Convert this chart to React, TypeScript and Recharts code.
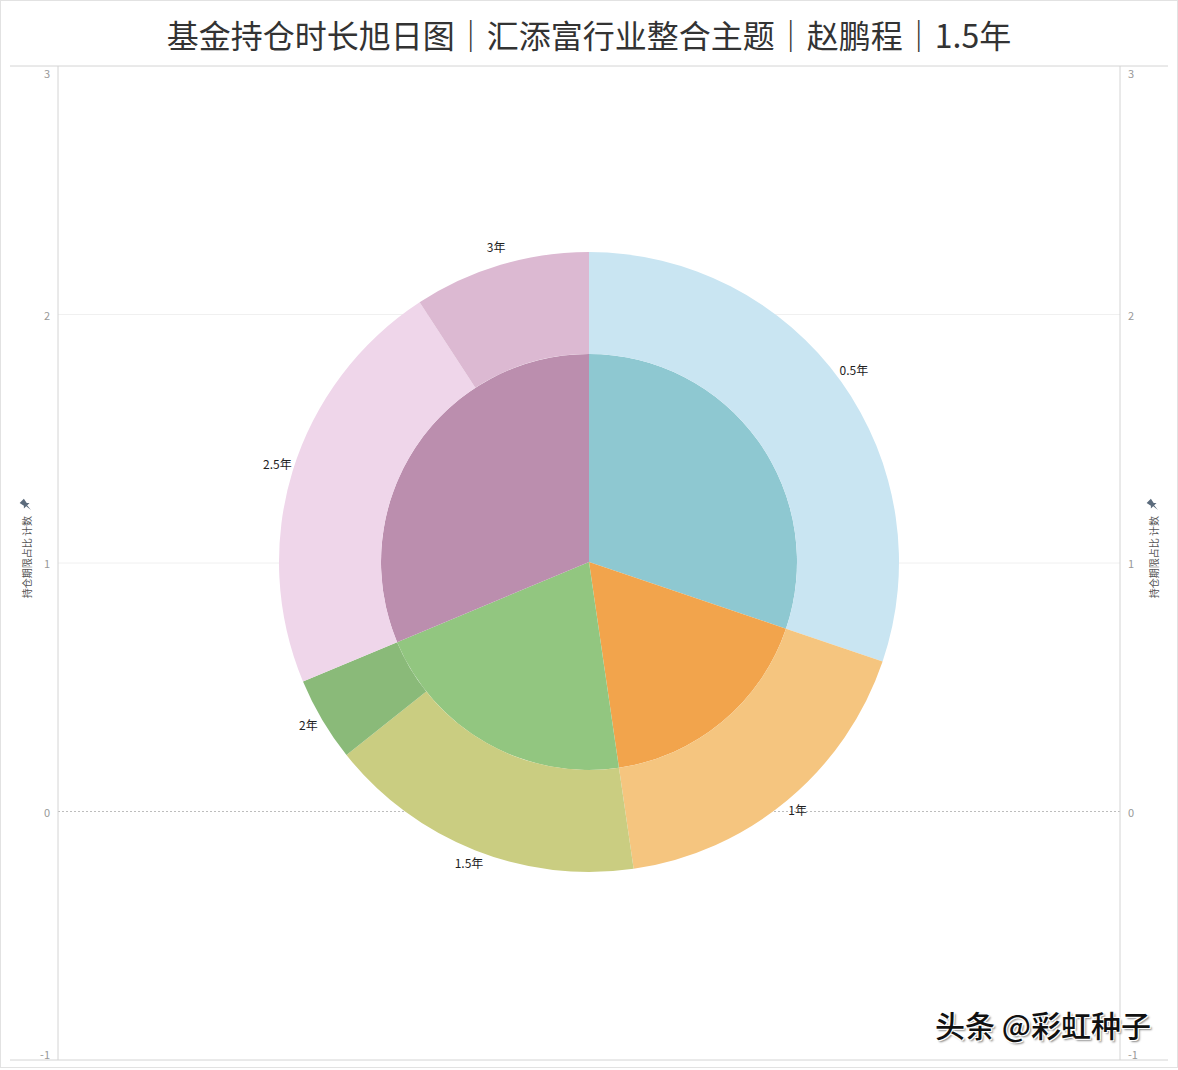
import React from 'react';
import {
  PieChart, Pie, Cell, LineChart, XAxis, YAxis, ReferenceLine,
} from 'recharts';

// inner ring: holding period groups
const innerGroups = ['0.5年', '1年', '1.5-2年', '2.5-3年'];
const innerValues = [30.2, 17.5, 21.0, 31.3];
const innerColors = ['#8ec8d1', '#f2a44c', '#92c680', '#bb8eae'];

// outer ring: single periods
const outerLabels = ['0.5年', '1年', '1.5年', '2年', '2.5年', '3年'];
const outerValues = [30.2, 17.5, 16.6, 4.4, 22.1, 9.2];
const outerColors = ['#c9e5f2', '#f5c57f', '#cacd81', '#8aba79', '#efd6ea', '#dcb9d2'];

const yTicks = [-1, 0, 1, 2, 3];

const TITLE = '基金持仓时长旭日图｜汇添富行业整合主题｜赵鹏程｜1.5年';
const AXIS_TITLE = '持仓期限占比 计数';

const W = 1178;
const H = 1070;
const CJK = '"Noto Sans CJK SC", "Noto Sans", sans-serif';
const RADIAN = Math.PI / 180;

const innerData = innerGroups.map((name, i) => ({ name, value: innerValues[i] }));
const outerData = outerLabels.map((name, i) => ({ name, value: outerValues[i] }));

function makeTick(anchor: 'start' | 'end') {
  return (props: any) => {
    const { x, y, payload } = props;
    const v = payload.value;
    const dy = v === 3 ? 7 : v === -1 ? -6 : 0;
    return (
      <text x={x} y={y + dy} textAnchor={anchor} dominantBaseline="central"
        fontSize={11} fill="#999" fontFamily={CJK}>
        {v}
      </text>
    );
  };
}

const renderOuterLabel = (props: any) => {
  const { cx, cy, midAngle, outerRadius, name } = props;
  const r = outerRadius + 16;
  const x = cx + r * Math.cos(-midAngle * RADIAN);
  const y = cy + r * Math.sin(-midAngle * RADIAN) - 3;
  return (
    <text x={x} y={y} textAnchor="middle" dominantBaseline="central"
      fontSize={12} fill="#222" fontFamily={CJK}>
      {name}
    </text>
  );
};

function AxisTitle({ x }: { x: number }) {
  return (
    <g>
      <g transform={`translate(${x}, 505) rotate(-45)`}>
        <path d="M-3,-6 L3,-6 L2,-1 L4,1 L-4,1 L-2,-1 Z M-0.6,1 L0.6,1 L0,7 Z" fill="#5b6b7c" />
      </g>
      <text x={x} y={557} transform={`rotate(-90, ${x}, 557)`} textAnchor="middle"
        dominantBaseline="central" fontSize={10} fill="#555" fontFamily={CJK}>
        {AXIS_TITLE}
      </text>
    </g>
  );
}

export default function App() {
  return (
    <div style={{ position: 'absolute', left: 0, top: 0, width: W, height: H, background: '#fff', overflow: 'hidden' }}>
      <svg width={W} height={H} style={{ position: 'absolute', left: 0, top: 0 }}>
        <rect x={0.5} y={0.5} width={W - 1} height={H - 3} fill="none" stroke="#e2e2e2" />
        <line x1={10} x2={1168} y1={66} y2={66} stroke="#d4d4d4" />
        <line x1={10} x2={1168} y1={1060} y2={1060} stroke="#d4d4d4" />
        <AxisTitle x={26} />
        <AxisTitle x={1153} />
      </svg>

      <div style={{ position: 'absolute', left: 0, top: 0 }}>
        <LineChart width={W} height={H} data={outerData}
          margin={{ top: 66, right: 0, bottom: 10, left: 0 }}>
          <XAxis dataKey="name" hide />
          <YAxis yAxisId="left" orientation="left" width={58} type="number"
            domain={[-1, 3]} allowDataOverflow ticks={yTicks} tickLine={false}
            axisLine={{ stroke: '#d4d4d4' }} tick={makeTick('end')} />
          <YAxis yAxisId="right" orientation="right" width={58} type="number"
            domain={[-1, 3]} allowDataOverflow ticks={yTicks} tickLine={false}
            axisLine={{ stroke: '#d4d4d4' }} tick={makeTick('start')} />
          <ReferenceLine yAxisId="left" y={2} stroke="#f0f0f0" />
          <ReferenceLine yAxisId="left" y={1} stroke="#f0f0f0" />
          <ReferenceLine yAxisId="left" y={0} stroke="#bdbdbd" strokeDasharray="2 2" />
        </LineChart>
      </div>

      <div style={{ position: 'absolute', left: 0, top: 0 }}>
        <PieChart width={W} height={H} margin={{ top: 0, right: 0, bottom: 0, left: 0 }}>
          <Pie data={innerData} dataKey="value" nameKey="name" cx={589} cy={562}
            innerRadius={0} outerRadius={208} startAngle={90} endAngle={-270}
            stroke="none" isAnimationActive={false}>
            {innerData.map((d, i) => <Cell key={d.name} fill={innerColors[i]} />)}
          </Pie>
          <Pie data={outerData} dataKey="value" nameKey="name" cx={589} cy={562}
            innerRadius={208} outerRadius={310} startAngle={90} endAngle={-270}
            stroke="none" isAnimationActive={false}
            label={renderOuterLabel} labelLine={false}>
            {outerData.map((d, i) => <Cell key={d.name} fill={outerColors[i]} />)}
          </Pie>
        </PieChart>
      </div>

      <div style={{
        position: 'absolute', left: 0, top: 12, width: W, textAlign: 'center',
        fontSize: 32, lineHeight: '44px', color: '#333', fontFamily: CJK,
      }}>
        {TITLE}
      </div>

      <div style={{
        position: 'absolute', left: 935, top: 1009, fontSize: 30, lineHeight: '30px',
        color: '#111', fontFamily: CJK, fontWeight: 500,
        textShadow: '1px 1px 0 #fff, -1px -1px 0 #fff, 1px -1px 0 #fff, -1px 1px 0 #fff, 2px 2px 2px #888',
      }}>
        头条 @彩虹种子
      </div>
    </div>
  );
}
